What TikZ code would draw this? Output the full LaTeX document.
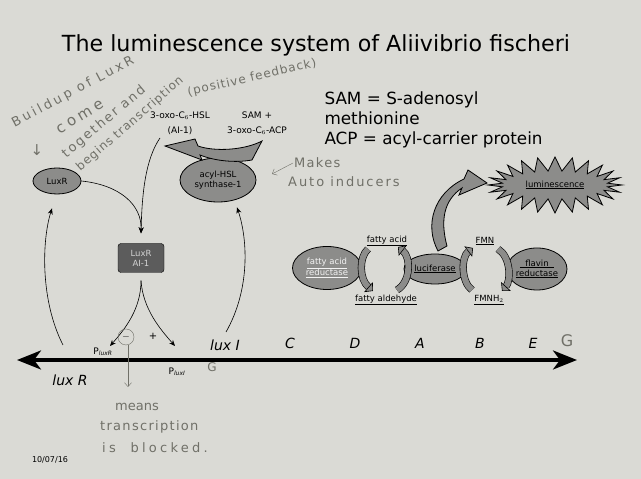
\documentclass[tikz,border=0pt]{standalone}
\usepackage{fontspec}
\setmainfont{DejaVu Sans}
\usetikzlibrary{arrows.meta,shapes.geometric,shapes.symbols,positioning}
\definecolor{paper}{RGB}{218,218,213}
\definecolor{enzgray}{RGB}{140,140,138}
\definecolor{boxgray}{RGB}{92,92,92}
\definecolor{inkgray}{RGB}{112,112,104}
\newcommand{\scrawl}[2]{\fontsize{#1}{#1}\selectfont\addfontfeatures{LetterSpace=#2}}
\tikzset{
  enz/.style={ellipse,draw=black,fill=enzgray,thick,inner sep=0pt,align=center,font=\fontsize{8.5}{10}\selectfont},
  link/.style={semithick,-{Stealth[length=6pt,width=5pt]}},
  gene/.style={font=\fontsize{14}{16}\selectfont\itshape},
  hand/.style={text=inkgray,font=\scrawl{13}{10},inner sep=1pt},
  handline/.style={draw=inkgray,thin,-{Straight Barb[length=4pt,width=7pt]}},
  crescent/.style={line width=0.6pt,double=enzgray,double distance=6pt,-{Triangle[fill=enzgray,length=6pt,width=13pt]}},
  small/.style={font=\fontsize{9}{15}\selectfont,align=center}
}
\begin{document}
\begin{tikzpicture}[x=1pt,y=1pt]
\fill[paper] (0,0) rectangle (641,479);
\useasboundingbox (0,0) rectangle (641,479);
% title and abbreviations
\node[font=\fontsize{22.2}{26}\selectfont] (title) at (316,434) {The luminescence system of Aliivibrio fischeri};
\node[anchor=west,align=left,font=\fontsize{16.8}{20}\selectfont] (abbrev) at (321,359) {SAM = S-adenosyl\\methionine\\ACP = acyl-carrier protein};
% autoinducer synthesis
\node[small] (hsl) at (180,356) {3-oxo-C$_6$-HSL\\(AI-1)};
\node[small] (samacp) at (257,356) {SAM +\\3-oxo-C$_6$-ACP};
\node[enz,minimum width=76pt,minimum height=44pt] (synth) at (218,299) {acyl-HSL\\synthase-1};
\filldraw[fill=enzgray,draw=black,thick] (262,338) -- (252,319) .. controls (235,316) and (215,318) .. (200,324)
  -- (202,319) -- (165,333) -- (195,340) -- (198,333) .. controls (215,327) and (245,329) .. cycle;
\node[enz,minimum width=48pt,minimum height=26pt] (luxr) at (57,298) {LuxR};
\node[draw=black,fill=boxgray,rounded corners=3pt,minimum width=46pt,minimum height=29pt,inner sep=0pt,
  text=gray!35,align=center,font=\fontsize{8.5}{10}\selectfont] (complex) at (141,221) {LuxR\\AI-1};
\coordinate (cin) at ([yshift=10pt]complex.north);
\coordinate (cout) at ([yshift=-8pt]complex.south);
\draw[link] (luxr.east) .. controls (120,294) and (142,274) .. (cin);
\draw[link] ([xshift=-20pt]hsl.south) .. controls (145,319) and (142,284) .. (cin);
% genome
\coordinate (axl) at (17,119);
\coordinate (axr) at (577,119);
\draw[line width=3.5pt,{Stealth[length=24pt,width=19pt,inset=7pt]}-{Stealth[length=24pt,width=19pt,inset=7pt]}] (axl) -- (axr);
\node[font=\fontsize{9}{10}\selectfont] (plr) at (103,127) {P$_{\mathit{luxR}}$};
\node[font=\fontsize{9}{10}\selectfont] (pli) at (177,107) {P$_{\mathit{luxI}}$};
\coordinate (plrtip) at (110,133);
\coordinate (plitip) at (175,133);
\draw[link] (cout) .. controls (141,170) and (125,150) .. (plrtip);
\draw[link] (cout) .. controls (143,170) and (160,150) .. (plitip);
\node[circle,draw=inkgray,minimum size=16pt,inner sep=0pt] (minus) at (126,142) {$-$};
\node (plus) at (153,143) {+};
\node[gene] (genR) at (70,99) {lux R};
\node[gene] (genI) at (225,134) {lux I};
\foreach \g/\x in {C/290,D/355,A/420,B/480,E/533}
  \node[gene] (gen\g) at (\x,136) {\g};
\coordinate (luxRup) at (63,134);
\coordinate (luxIup) at (226,147);
\draw[link] (luxRup) .. controls (40,179) and (42,239) .. ([xshift=-5pt,yshift=-14pt]luxr.south);
\draw[link] (luxIup) .. controls (250,189) and (248,239) .. ([xshift=19pt,yshift=-5pt]synth.south);
% luciferase reaction
\node[enz,minimum width=69pt,minimum height=43pt,text=white!90!gray] (far) at (327,211) {\underline{fatty acid}\\\underline{reductase}};
\node[enz,minimum width=62pt,minimum height=30pt] (luc) at (435,210) {\underline{luciferase}};
\node[enz,minimum width=60pt,minimum height=42pt] (flr) at (537,210) {\underline{\ \ flavin\ \ }\\\underline{reductase}};
\node[font=\fontsize{8.5}{10}\selectfont] (facid) at (387,238) {\underline{fatty acid}};
\node[font=\fontsize{8.5}{10}\selectfont] (fald) at (386,179) {\underline{fatty aldehyde}};
\node[font=\fontsize{8.5}{10}\selectfont] (fmn) at (485,238) {\underline{FMN}};
\node[font=\fontsize{8.5}{10}\selectfont] (fmnh) at (489,179) {\underline{FMNH$_2$}};
\draw[crescent] (368,230) .. controls (359,222) and (359,200) .. (373,188);
\draw[crescent] (397,189) .. controls (411,197) and (411,222) .. (398,232);
\draw[crescent] (472,189) .. controls (461,197) and (461,222) .. (473,231);
\draw[crescent] (498,230) .. controls (511,222) and (511,198) .. (502,188);
\node[starburst,draw=black,fill=enzgray,thick,starburst points=24,starburst point height=14pt,random starburst=0,
  minimum width=134pt,minimum height=56pt,inner sep=0pt,font=\fontsize{8.5}{10}\selectfont] (lum) at (555,294) {\underline{luminescence}};
\filldraw[fill=enzgray,draw=black,thick] (438,228) .. controls (424,254) and (434,286) .. (464,300)
  -- (468,309) -- (487,296) -- (459,284) -- (462,291) .. controls (444,279) and (440,259) .. (447,233) -- cycle;
% handwritten notes
\node[hand,font=\scrawl{13}{22},rotate=28] (build) at (73,387) {Buildup of LuxR};
\node[hand,font=\scrawl{15}{25},rotate=31] (come) at (80,362) {come};
\node[hand,font=\scrawl{15}{0}] (down) at (37,329) {↓};
\node[hand,font=\scrawl{13}{15},rotate=40] (together) at (104,357) {together and};
\node[hand,font=\scrawl{12}{8},rotate=41] (begins) at (130,355) {begins transcription};
\node[hand,font=\scrawl{12}{8},rotate=13] (feedback) at (252,401) {(positive feedback)};
\node[hand,anchor=west] (makes) at (293,316) {Makes};
\node[hand,font=\scrawl{13}{15},anchor=west] (auto) at (287,297) {Auto inducers};
\coordinate (mk) at (272,305);
\draw[handline] (makes.west) -- (mk);
\node[hand,font=\scrawl{16}{0}] (six) at (567,138) {G};
\node[hand,font=\scrawl{12}{0}] (gee) at (212,112) {G};
\coordinate (blk) at (128,92);
\draw[handline] ([xshift=2pt]minus.south) -- (blk);
\node[hand,font=\scrawl{13}{0},anchor=west] (means1) at (114,72) {means};
\node[hand,anchor=west] (means2) at (99,52) {transcription};
\node[hand,font=\scrawl{13}{25},anchor=west] (means3) at (101,31) {is \ blocked.};
\node[font=\fontsize{8}{9}\selectfont] (date) at (50,19) {10/07/16};
\end{tikzpicture}
\end{document}
